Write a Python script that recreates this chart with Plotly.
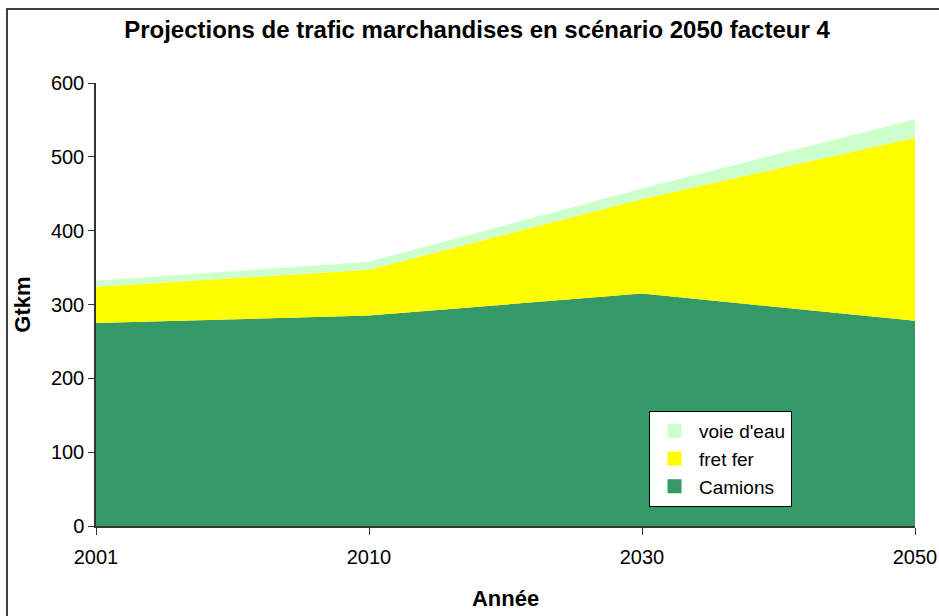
import plotly.graph_objects as go

# Freight traffic projections (Gtkm), stacked by mode
annees = ["2001", "2010", "2030", "2050"]
camions = [275, 285, 315, 278]
fret_fer = [49, 62, 128, 248]
voie_eau = [8, 11, 14, 25]

series = [("Camions", camions, "#339966"),
          ("fret fer", fret_fer, "#FFFF00"),
          ("voie d'eau", voie_eau, "#CCFFCC")]

y_ticks = [0, 100, 200, 300, 400, 500, 600]

W, H = 939, 616
ML, MR, MT, MB = 96, 24, 83, 90
PW, PH = W - ML - MR, H - MT - MB

xs = list(range(len(annees)))

fig = go.Figure()
for name, vals, col in series:
    fig.add_trace(go.Scatter(x=xs, y=vals, name=name, stackgroup="t",
                             mode="none", fillcolor=col, showlegend=False,
                             legendgroup=name))
# square swatches for the legend
for name, vals, col in series:
    fig.add_trace(go.Scatter(x=[None], y=[None], name=name, mode="markers",
                             legendgroup=name,
                             marker=dict(symbol="square", size=14, color=col)))

# outer frame of the chart
def px_x(v):
    return (v - ML) / PW

def px_y(v):
    return 1 - (v - MT) / PH

fig.add_shape(type="rect", xref="paper", yref="paper",
              x0=px_x(7), x1=px_x(960), y0=px_y(9), y1=px_y(640),
              line=dict(color="black", width=1.5), fillcolor="rgba(0,0,0,0)",
              layer="below")

fig.update_layout(
    width=W, height=H,
    margin=dict(l=ML, r=MR, t=MT, b=MB, autoexpand=False),
    paper_bgcolor="white", plot_bgcolor="white",
    font=dict(family="Liberation Sans, Arial", size=20, color="black"),
    title=dict(text="<b>Projections de trafic marchandises en scénario 2050 facteur 4</b>",
               x=477 / W, xanchor="center", y=1 - 30 / H, yanchor="middle",
               font=dict(size=24)),
    showlegend=True,
    legend=dict(traceorder="reversed", x=px_x(649), y=px_y(411),
                xanchor="left", yanchor="top",
                bordercolor="black", borderwidth=1, bgcolor="white",
                font=dict(size=19), itemwidth=39, tracegroupgap=0),
    xaxis=dict(range=[0, 3], tickmode="array", tickvals=xs, ticktext=annees,
               automargin=False,
               showgrid=False, zeroline=False, showline=True, linecolor="#333",
               linewidth=1.5, ticks="outside", ticklen=7, tickcolor="#333",
               tickfont=dict(size=20), ticklabelstandoff=5,
               title=dict(text="<b>Année</b>", font=dict(size=22), standoff=24)),
    yaxis=dict(range=[0, 600], tickmode="array", tickvals=y_ticks,
               automargin=False,
               showgrid=False, zeroline=False, showline=True, linecolor="#333",
               linewidth=1.5, ticks="outside", ticklen=6, tickcolor="#333",
               tickfont=dict(size=20),
               title=dict(text="<b>Gtkm</b>", font=dict(size=22), standoff=14)),
)

fig.write_html("out.html")
